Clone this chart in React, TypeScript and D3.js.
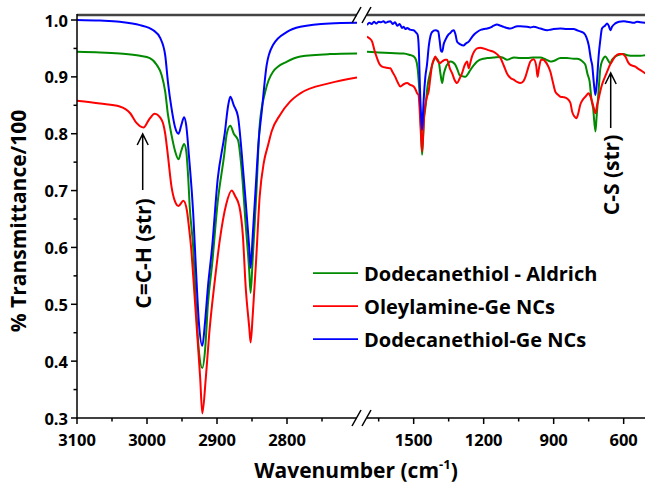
import React from "react";
import * as d3 from "d3";

// ---- Data (wavenumber cm^-1, transmittance) ----
const seriesNames = ["Dodecanethiol - Aldrich", "Oleylamine-Ge NCs", "Dodecanethiol-Ge NCs"];
const seriesColors = ["#008a00", "#ff0000", "#0000ff"];

const leftTicks = [3100, 3000, 2900, 2800];
const leftMinorTicks = [3050, 2950, 2850, 2750];
const rightTicks = [1500, 1200, 900, 600];
const rightMinorTicks = [1650, 1350, 1050, 750];
const yTicks = [0.3, 0.4, 0.5, 0.6, 0.7, 0.8, 0.9, 1.0];
const yMinorTicks = [0.35, 0.45, 0.55, 0.65, 0.75, 0.85, 0.95];

const greenHigh: [number, number][] = [
  [3100, 0.944], [3067, 0.943], [3039, 0.941], [3010, 0.937], [2996, 0.933], [2986, 0.921], [2979, 0.903],
  [2974, 0.874], [2970, 0.833], [2965, 0.798], [2960, 0.77], [2955, 0.755], [2951, 0.77], [2947, 0.782],
  [2944, 0.77], [2941, 0.72], [2939, 0.672], [2934, 0.6], [2930, 0.5], [2926, 0.42], [2921, 0.388],
  [2917, 0.42], [2913, 0.5], [2907, 0.57], [2899, 0.68], [2890, 0.76], [2886, 0.8], [2881, 0.814],
  [2876, 0.8], [2870, 0.789], [2865, 0.74], [2859, 0.64], [2854, 0.56], [2852, 0.52], [2849, 0.58],
  [2844, 0.69], [2839, 0.815], [2831, 0.874], [2820, 0.909], [2800, 0.927], [2781, 0.936], [2739, 0.94], [2700, 0.941],
];
const redHigh: [number, number][] = [
  [3100, 0.858], [3067, 0.853], [3039, 0.848], [3024, 0.836], [3015, 0.819], [3005, 0.811], [2997, 0.825],
  [2989, 0.835], [2979, 0.824], [2974, 0.8], [2970, 0.76], [2965, 0.707], [2960, 0.681], [2955, 0.673],
  [2948, 0.682], [2943, 0.665], [2940, 0.635], [2937, 0.6], [2934, 0.55], [2929, 0.46], [2924, 0.37],
  [2921, 0.308], [2916, 0.37], [2911, 0.45], [2907, 0.5], [2903, 0.543], [2896, 0.613], [2887, 0.675],
  [2879, 0.7], [2874, 0.69], [2868, 0.672], [2863, 0.62], [2859, 0.53], [2854, 0.46], [2852, 0.433],
  [2849, 0.48], [2844, 0.58], [2839, 0.69], [2833, 0.75], [2827, 0.78], [2822, 0.804], [2810, 0.833],
  [2796, 0.856], [2781, 0.871], [2739, 0.889], [2700, 0.899],
];
const blueHigh: [number, number][] = [
  [3100, 1.0], [3067, 0.999], [3039, 0.997], [3010, 0.991], [2991, 0.982], [2981, 0.968], [2974, 0.938],
  [2970, 0.89], [2965, 0.845], [2960, 0.812], [2955, 0.8], [2951, 0.815], [2947, 0.829], [2944, 0.815],
  [2940, 0.76], [2934, 0.66], [2930, 0.56], [2926, 0.47], [2921, 0.427], [2917, 0.47], [2913, 0.53],
  [2907, 0.6], [2899, 0.72], [2889, 0.8], [2884, 0.85], [2881, 0.865], [2876, 0.85], [2870, 0.83],
  [2865, 0.77], [2859, 0.68], [2854, 0.6], [2852, 0.564], [2849, 0.62], [2844, 0.72], [2841, 0.78],
  [2836, 0.84], [2829, 0.921], [2820, 0.956], [2800, 0.979], [2781, 0.988], [2739, 0.994], [2700, 0.995],
];

const greenLow: [number, number][] = [
  [1700, 0.944], [1650, 0.943], [1600, 0.942], [1543, 0.941], [1520, 0.939], [1500, 0.936], [1490, 0.93],
  [1483, 0.915], [1474, 0.862], [1468, 0.8], [1464, 0.763], [1460, 0.79], [1457, 0.82], [1450, 0.845],
  [1440, 0.885], [1428, 0.909], [1415, 0.928], [1407, 0.933], [1393, 0.927], [1385, 0.905], [1378, 0.889],
  [1371, 0.905], [1364, 0.915], [1350, 0.925], [1343, 0.927], [1330, 0.925], [1321, 0.921], [1310, 0.91],
  [1303, 0.903], [1290, 0.901], [1278, 0.9], [1266, 0.906], [1257, 0.912], [1243, 0.92], [1228, 0.927],
  [1200, 0.932], [1185, 0.933], [1157, 0.934], [1128, 0.935], [1114, 0.933], [1100, 0.93], [1085, 0.932],
  [1071, 0.934], [1043, 0.933], [1014, 0.933], [986, 0.934], [957, 0.934], [936, 0.931], [914, 0.927],
  [900, 0.928], [871, 0.933], [843, 0.933], [814, 0.932], [800, 0.932], [785, 0.93], [771, 0.925],
  [764, 0.921], [755, 0.905], [746, 0.892], [738, 0.86], [731, 0.845], [721, 0.804], [716, 0.83],
  [711, 0.856], [705, 0.89], [700, 0.915], [690, 0.93], [678, 0.936], [668, 0.93], [657, 0.924],
  [650, 0.93], [636, 0.936], [620, 0.939], [600, 0.94], [585, 0.938], [557, 0.937], [528, 0.937], [507, 0.938],
];
const redLow: [number, number][] = [
  [1700, 0.971], [1690, 0.968], [1678, 0.962], [1667, 0.945], [1657, 0.933], [1646, 0.922], [1635, 0.918],
  [1617, 0.916], [1600, 0.915], [1590, 0.908], [1579, 0.9], [1568, 0.89], [1557, 0.883], [1543, 0.887],
  [1528, 0.889], [1515, 0.886], [1500, 0.883], [1490, 0.876], [1485, 0.871], [1479, 0.868], [1474, 0.84],
  [1469, 0.8], [1464, 0.769], [1459, 0.8], [1455, 0.833], [1450, 0.85], [1443, 0.865], [1436, 0.874],
  [1428, 0.9], [1421, 0.921], [1414, 0.93], [1407, 0.936], [1400, 0.93], [1389, 0.924], [1378, 0.927],
  [1364, 0.93], [1357, 0.93], [1345, 0.915], [1335, 0.906], [1325, 0.895], [1314, 0.889], [1303, 0.897],
  [1293, 0.906], [1282, 0.92], [1271, 0.927], [1264, 0.915], [1257, 0.925], [1250, 0.936], [1240, 0.945],
  [1228, 0.95], [1215, 0.951], [1200, 0.95], [1180, 0.947], [1157, 0.944], [1143, 0.94], [1128, 0.933],
  [1114, 0.92], [1100, 0.906], [1085, 0.898], [1071, 0.895], [1057, 0.891], [1043, 0.889], [1030, 0.892],
  [1021, 0.9], [1010, 0.915], [1000, 0.927], [986, 0.931], [975, 0.92], [969, 0.9], [963, 0.915],
  [954, 0.93], [945, 0.93], [936, 0.927], [925, 0.92], [914, 0.909], [903, 0.89], [893, 0.874],
  [880, 0.868], [871, 0.865], [855, 0.864], [843, 0.862], [828, 0.854], [821, 0.839], [810, 0.83],
  [803, 0.827], [795, 0.835], [786, 0.851], [775, 0.86], [764, 0.865], [750, 0.871], [745, 0.868],
  [735, 0.856], [728, 0.845], [721, 0.836], [714, 0.85], [707, 0.862], [700, 0.875], [693, 0.886],
  [680, 0.9], [671, 0.909], [660, 0.92], [650, 0.927], [636, 0.936], [620, 0.94], [607, 0.94],
  [593, 0.936], [580, 0.925], [571, 0.921], [557, 0.919], [550, 0.918], [540, 0.915], [528, 0.912], [507, 0.906],
];
const blueLow: [number, number][] = [
  [1700, 0.991], [1690, 0.995], [1680, 0.993], [1670, 0.997], [1660, 0.994], [1650, 0.997], [1640, 0.996],
  [1630, 0.998], [1620, 0.995], [1610, 0.997], [1600, 0.998], [1590, 0.993], [1580, 0.996], [1570, 0.99],
  [1560, 0.993], [1550, 0.986], [1543, 0.988], [1535, 0.984], [1528, 0.986], [1515, 0.983], [1500, 0.982],
  [1490, 0.978], [1483, 0.974], [1478, 0.95], [1473, 0.88], [1468, 0.83], [1464, 0.807], [1460, 0.835],
  [1457, 0.86], [1450, 0.9], [1443, 0.921], [1435, 0.955], [1428, 0.972], [1421, 0.979], [1407, 0.982],
  [1395, 0.98], [1389, 0.965], [1383, 0.946], [1378, 0.944], [1371, 0.958], [1364, 0.965], [1350, 0.975],
  [1343, 0.977], [1335, 0.981], [1328, 0.982], [1321, 0.975], [1314, 0.962], [1307, 0.959], [1300, 0.957],
  [1286, 0.955], [1278, 0.958], [1264, 0.962], [1250, 0.97], [1240, 0.975], [1228, 0.979], [1210, 0.983],
  [1200, 0.984], [1185, 0.985], [1170, 0.987], [1157, 0.99], [1143, 0.992], [1128, 0.99], [1114, 0.988],
  [1100, 0.986], [1086, 0.985], [1071, 0.987], [1057, 0.989], [1043, 0.989], [1014, 0.988], [1000, 0.987],
  [986, 0.988], [957, 0.985], [928, 0.982], [914, 0.983], [900, 0.984], [871, 0.985], [843, 0.984],
  [814, 0.984], [800, 0.982], [786, 0.98], [771, 0.977], [760, 0.97], [750, 0.956], [740, 0.93],
  [735, 0.921], [728, 0.89], [721, 0.868], [715, 0.89], [707, 0.938], [700, 0.965], [693, 0.985],
  [680, 0.99], [671, 0.994], [664, 0.99], [657, 0.982], [650, 0.988], [636, 0.994], [620, 0.997],
  [600, 0.998], [585, 0.997], [571, 0.996], [557, 0.995], [543, 0.997], [528, 0.996], [507, 0.995],
];

const FONT = "'Open Sans', Lato, sans-serif";

export default function App() {
  const W = 645, H = 484;
  const top = 15, bottom = 418, left = 77;
  const xL = d3.scaleLinear().domain([3100, 2700]).range([77, 357]);
  const xR = d3.scaleLinear().domain([1700, 500]).range([367, 647]);
  const y = d3.scaleLinear().domain([0.3, 1.0088]).range([bottom, top]);

  const lineL = d3.line<[number, number]>().x(d => xL(d[0])).y(d => y(d[1])).curve(d3.curveMonotoneX);
  const lineR = d3.line<[number, number]>().x(d => xR(d[0])).y(d => y(d[1])).curve(d3.curveMonotoneX);

  const highSeries = [greenHigh, redHigh, blueHigh];
  const lowSeries = [greenLow, redLow, blueLow];

  const legendY = [273, 306, 339];

  return (
    <svg width={W} height={H} style={{ position: "absolute", left: 0, top: 0, background: "#fff" }}
      fontFamily={FONT} fontWeight="bold">
      <defs>
        <clipPath id="clipL"><rect x={77} y={top} width={280} height={bottom - top} /></clipPath>
        <clipPath id="clipR"><rect x={367} y={top} width={280} height={bottom - top} /></clipPath>
      </defs>

      {/* spectra */}
      <g clipPath="url(#clipL)">
        {highSeries.map((s, i) => (
          <path key={i} d={lineL(s) || ""} fill="none" stroke={seriesColors[i]} strokeWidth={2} strokeLinejoin="round" />
        ))}
      </g>
      <g clipPath="url(#clipR)">
        {lowSeries.map((s, i) => (
          <path key={i} d={lineR(s) || ""} fill="none" stroke={seriesColors[i]} strokeWidth={2} strokeLinejoin="round" />
        ))}
      </g>

      {/* top axis (gray) with break */}
      <line x1={left} x2={357} y1={top} y2={top} stroke="#444" strokeWidth={2.5} />
      <line x1={367} x2={W} y1={top} y2={top} stroke="#444" strokeWidth={2.5} />
      {/* bottom axis with break */}
      <line x1={left} x2={357} y1={bottom} y2={bottom} stroke="#000" strokeWidth={1.5} />
      <line x1={367} x2={W} y1={bottom} y2={bottom} stroke="#000" strokeWidth={1.5} />
      {/* left axis */}
      <line x1={left} x2={left} y1={top - 1} y2={bottom + 0.75} stroke="#000" strokeWidth={1.5} />

      {/* break marks */}
      {[bottom, top].map((yy, k) => (
        <g key={k} stroke="#000" strokeWidth={1.5}>
          <line x1={352} y1={yy + 8} x2={361} y2={yy - 8} />
          <line x1={362} y1={yy + 8} x2={371} y2={yy - 8} />
        </g>
      ))}

      {/* y ticks */}
      {yTicks.map(t => (
        <g key={t}>
          <line x1={left - 6} x2={left} y1={y(t)} y2={y(t)} stroke="#000" strokeWidth={1.5} />
          <text x={68} y={y(t)} textAnchor="end" dominantBaseline="central" fontSize={16.5}>{t.toFixed(1)}</text>
        </g>
      ))}
      {yMinorTicks.map(t => (
        <line key={t} x1={left - 3.5} x2={left} y1={y(t)} y2={y(t)} stroke="#000" strokeWidth={1.5} />
      ))}

      {/* x ticks */}
      {leftTicks.map(t => (
        <g key={t}>
          <line x1={xL(t)} x2={xL(t)} y1={bottom} y2={bottom + 6} stroke="#000" strokeWidth={1.5} />
          <text x={xL(t)} y={446} textAnchor="middle" fontSize={16.5}>{t}</text>
        </g>
      ))}
      {leftMinorTicks.map(t => (
        <line key={t} x1={xL(t)} x2={xL(t)} y1={bottom} y2={bottom + 3.5} stroke="#000" strokeWidth={1.5} />
      ))}
      {rightTicks.map(t => (
        <g key={t}>
          <line x1={xR(t)} x2={xR(t)} y1={bottom} y2={bottom + 6} stroke="#000" strokeWidth={1.5} />
          <text x={xR(t)} y={446} textAnchor="middle" fontSize={16.5}>{t}</text>
        </g>
      ))}
      {rightMinorTicks.map(t => (
        <line key={t} x1={xR(t)} x2={xR(t)} y1={bottom} y2={bottom + 3.5} stroke="#000" strokeWidth={1.5} />
      ))}

      {/* axis titles */}
      <text x={356} y={478} textAnchor="middle" fontSize={21}>
        Wavenumber (cm<tspan fontSize={13} dy={-9}>-1</tspan><tspan dy={9}>)</tspan>
      </text>
      <text transform="translate(18,221) rotate(-90)" textAnchor="middle" dominantBaseline="central" fontSize={21}>
        % Transmittance/100
      </text>

      {/* legend */}
      {seriesNames.map((n, i) => (
        <g key={n}>
          <line x1={313} x2={358} y1={legendY[i]} y2={legendY[i]} stroke={seriesColors[i]} strokeWidth={1.75} />
          <text x={364} y={legendY[i]} dominantBaseline="central" fontSize={20}>{n}</text>
        </g>
      ))}

      {/* annotations */}
      <path d="M142.7,190 L142.7,134 M137.2,145 L142.7,134 L148.2,145" fill="none" stroke="#000" strokeWidth={1.5} />
      <text transform="translate(143,253.5) rotate(-90)" textAnchor="middle" dominantBaseline="central" fontSize={21}>C=C-H (str)</text>
      <path d="M610.7,128 L610.7,73 M605.2,84 L610.7,73 L616.2,84" fill="none" stroke="#000" strokeWidth={1.5} />
      <text transform="translate(611,175) rotate(-90)" textAnchor="middle" dominantBaseline="central" fontSize={21}>C-S (str)</text>
    </svg>
  );
}
